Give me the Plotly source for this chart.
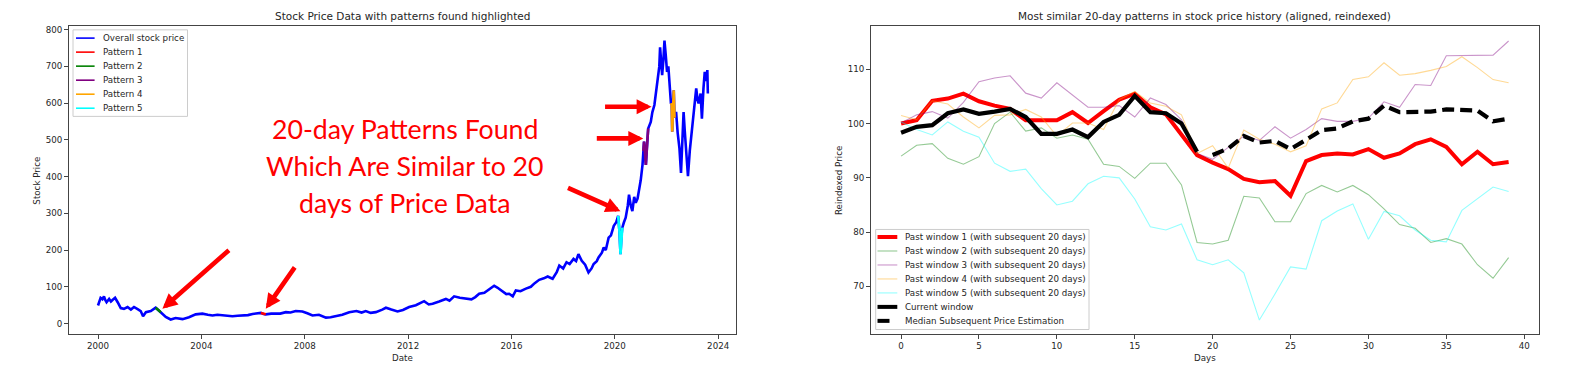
import pandas as pd
import plotly.graph_objects as go

W, H = 1573, 370

# ---------------- Left chart data (fractional year, price) ----------------
stock_years = [
    2000.00, 2000.05, 2000.10, 2000.17, 2000.23, 2000.28, 2000.33, 2000.43, 2000.50, 2000.56,
    2000.66, 2000.76, 2000.88, 2001.00, 2001.14, 2001.27, 2001.39, 2001.53, 2001.65, 2001.74,
    2001.85, 2002.04, 2002.15, 2002.23, 2002.33, 2002.43, 2002.62, 2002.81, 2003.00, 2003.27,
    2003.52, 2003.78, 2004.04, 2004.25, 2004.43, 2004.62, 2004.82, 2005.00, 2005.20, 2005.40,
    2005.59, 2005.80, 2005.98, 2006.15, 2006.30, 2006.40, 2006.49, 2006.70, 2006.88, 2007.05,
    2007.27, 2007.45, 2007.65, 2007.91, 2008.10, 2008.30, 2008.55, 2008.82, 2009.00, 2009.20,
    2009.45, 2009.72, 2010.00, 2010.20, 2010.36, 2010.55, 2010.75, 2011.00, 2011.14, 2011.35,
    2011.59, 2011.80, 2012.04, 2012.30, 2012.45, 2012.62, 2012.80, 2012.95, 2013.20, 2013.46,
    2013.60, 2013.78, 2014.00, 2014.24, 2014.45, 2014.60, 2014.75, 2014.95, 2015.15, 2015.33,
    2015.45, 2015.66, 2015.80, 2015.91, 2016.05, 2016.17, 2016.35, 2016.56, 2016.75, 2016.90,
    2017.07, 2017.25, 2017.40, 2017.59, 2017.75, 2017.85, 2018.00, 2018.13, 2018.25, 2018.40,
    2018.50, 2018.59, 2018.72, 2018.85, 2018.98, 2019.10, 2019.18, 2019.30, 2019.37, 2019.50,
    2019.57, 2019.65, 2019.76, 2019.85, 2019.96, 2020.05, 2020.13, 2020.18, 2020.22, 2020.26,
    2020.29, 2020.35, 2020.42, 2020.50, 2020.55, 2020.62, 2020.68, 2020.75, 2020.81, 2020.88,
    2020.94, 2021.00, 2021.07, 2021.10, 2021.13, 2021.17, 2021.20, 2021.25, 2021.29, 2021.39,
    2021.45, 2021.53, 2021.60, 2021.66, 2021.72, 2021.75, 2021.79, 2021.83, 2021.88, 2021.92,
    2021.97, 2022.02, 2022.07, 2022.11, 2022.17, 2022.20, 2022.22, 2022.25, 2022.28, 2022.31,
    2022.37, 2022.43, 2022.50, 2022.56, 2022.61, 2022.66, 2022.71, 2022.76, 2022.83, 2022.90,
    2022.96, 2023.03, 2023.09, 2023.15, 2023.20, 2023.24, 2023.32, 2023.37, 2023.43, 2023.48,
    2023.53, 2023.58, 2023.60,
]
stock_prices = [
    49, 62, 70, 66, 74, 64, 58, 67, 60, 64,
    70, 58, 42, 40, 45, 38, 45, 39, 34, 20,
    31, 34, 38, 43, 37, 31, 18, 11, 15, 12,
    17, 25, 27, 24, 22, 24, 22, 21, 20, 21,
    22, 23, 26, 28, 29, 26, 25, 27, 28, 27,
    31, 30, 34, 33, 28, 22, 24, 16, 17, 20,
    24, 31, 34, 30, 34, 29, 31, 38, 43, 38,
    33, 37, 45, 50, 55, 61, 52, 54, 60, 67,
    62, 74, 70, 67, 66, 72, 81, 84, 95, 103,
    98, 88, 80, 81, 74, 90, 88, 95, 100, 110,
    119, 123, 128, 122, 140, 158, 150, 167, 162, 176,
    170, 189, 171, 160, 139, 150, 162, 170, 180, 193,
    207, 200, 234, 240, 266, 275, 293, 250, 189, 240,
    261, 275, 288, 320, 351, 320, 306, 345, 329, 340,
    360, 390, 432, 470, 495, 460, 432, 490, 531, 549,
    575, 595, 630, 658, 700, 752, 710, 676, 720, 770,
    730, 685, 700, 649, 600, 595, 522, 600, 635, 560,
    576, 520, 477, 410, 500, 576, 520, 468, 401, 470,
    514, 560, 612, 640, 610, 599, 626, 558, 640, 685,
    660, 690, 626,
]

pattern_names = ["Pattern 1", "Pattern 2", "Pattern 3", "Pattern 4", "Pattern 5"]
pattern_colors = ["red", "green", "purple", "orange", "cyan"]
pattern1_years = [2006.30, 2006.40, 2006.49]
pattern1_prices = [29, 26, 25]
pattern2_years = [2002.23, 2002.33, 2002.43]
pattern2_prices = [43, 37, 31]
pattern3_years = [2021.10, 2021.13, 2021.17, 2021.20, 2021.25, 2021.29]
pattern3_prices = [470, 495, 460, 432, 490, 531]
pattern4_years = [2022.17, 2022.20, 2022.22, 2022.25, 2022.28, 2022.31]
pattern4_prices = [600, 595, 522, 600, 635, 560]
pattern5_years = [2020.13, 2020.18, 2020.22, 2020.26, 2020.29]
pattern5_prices = [293, 250, 189, 240, 261]

year_ticks = [2000, 2004, 2008, 2012, 2016, 2020, 2024]
price_ticks = [0, 100, 200, 300, 400, 500, 600, 700, 800]

# ---------------- Right chart data ----------------
days = list(range(40))
window1 = [100.0, 100.6, 104.2, 104.6, 105.5, 104.1, 103.3, 102.7, 100.6, 100.6,
           100.6, 102.1, 100.1, 102.3, 104.4, 105.5, 103.0, 101.7, 98.0, 94.2,
           92.8, 91.6, 89.8, 89.2, 89.4, 86.7, 93.1, 94.2, 94.5, 94.3,
           95.3, 93.7, 94.5, 96.2, 97.1, 95.7, 92.5, 94.8, 92.5, 92.9]
window2 = [94.0, 96.0, 96.3, 93.6, 92.5, 93.9, 100.0, 102.1, 98.6, 99.2,
           97.3, 97.9, 97.1, 92.5, 92.1, 89.9, 92.7, 92.7, 88.7, 78.1,
           77.8, 78.5, 86.6, 86.3, 81.9, 81.9, 87.1, 88.6, 87.4, 88.6,
           86.9, 84.3, 81.4, 80.7, 78.1, 78.8, 77.8, 74.0, 71.5, 75.3]
window3 = [100.1, 101.6, 102.2, 101.0, 103.9, 107.7, 108.4, 108.8, 105.6, 104.7,
           107.5, 105.3, 103.0, 103.0, 103.3, 101.2, 104.7, 103.5, 100.7, 94.5,
           93.4, 95.6, 97.7, 96.9, 99.4, 97.3, 98.9, 100.9, 100.4, 100.4,
           101.0, 104.0, 103.0, 107.2, 107.0, 112.5, 112.5, 112.5, 112.6, 115.2]
window4 = [101.5, 100.7, 104.2, 103.6, 101.2, 99.2, 101.5, 101.6, 102.6, 101.2,
           97.7, 100.1, 100.1, 98.9, 104.4, 105.9, 103.8, 103.2, 101.6, 94.5,
           95.9, 91.8, 98.8, 97.1, 96.2, 94.8, 95.9, 102.7, 103.8, 108.1,
           108.6, 111.2, 108.9, 109.2, 109.8, 110.5, 112.3, 110.3, 108.1, 107.5]
window5 = [100.3, 98.9, 97.9, 100.3, 98.6, 97.5, 92.7, 91.2, 91.6, 88.0,
           85.0, 85.7, 88.9, 90.3, 90.0, 86.1, 81.0, 80.4, 81.5, 74.9,
           74.0, 74.9, 72.5, 63.8, 68.6, 73.6, 73.2, 82.1, 83.9, 85.2,
           78.7, 83.8, 83.0, 80.4, 78.5, 78.2, 84.0, 86.1, 88.3, 87.5]
current_days = list(range(20))
current_window = [98.3, 99.4, 99.7, 101.9, 102.6, 101.8, 102.2, 102.7, 101.2, 98.1,
                  98.1, 98.9, 97.5, 100.3, 101.6, 105.1, 102.1, 101.9, 100.0, 94.8]
median_days = list(range(20, 40))
median_estimate = [94.2, 95.4, 97.7, 96.5, 96.8, 95.3, 97.0, 98.8, 99.1, 100.4,
                   100.9, 103.3, 102.1, 102.2, 102.2, 102.6, 102.5, 102.4, 100.4, 100.9]

window_names = ["Past window %d (with subsequent 20 days)" % i for i in range(1, 6)]
window_colors = ["rgb(255,0,0)", "rgba(0,128,0,0.42)", "rgba(128,0,128,0.42)",
                 "rgba(255,165,0,0.42)", "rgba(0,255,255,0.42)"]
window_widths = [4, 1.1, 1.1, 1.1, 1.1]
day_ticks = [0, 5, 10, 15, 20, 25, 30, 35, 40]
reindex_ticks = [70, 80, 90, 100, 110]

callout_lines = ["20-day Patterns Found", "Which Are Similar to 20", "days of Price Data"]


def to_date(y):
    yi = int(y)
    return pd.Timestamp(yi, 1, 1) + pd.Timedelta(days=(y - yi) * 365.25)


def dates(ys):
    return [to_date(y) for y in ys]


FONT = "DejaVu Sans"
TXT = "#262626"

fig = go.Figure()

# left chart
fig.add_trace(go.Scatter(x=dates(stock_years), y=stock_prices, mode="lines",
                         line=dict(color="blue", width=2.6), showlegend=False,
                         xaxis="x", yaxis="y"))
pat_years = [pattern1_years, pattern2_years, pattern3_years, pattern4_years, pattern5_years]
pat_prices = [pattern1_prices, pattern2_prices, pattern3_prices, pattern4_prices, pattern5_prices]
for nm, col, pyr, pp in zip(pattern_names, pattern_colors, pat_years, pat_prices):
    fig.add_trace(go.Scatter(x=dates(pyr), y=pp, mode="lines", name=nm,
                             line=dict(color=col, width=2.6), showlegend=False,
                             xaxis="x", yaxis="y"))

# right chart
for nm, col, wd, vals in zip(window_names, window_colors, window_widths,
                             [window1, window2, window3, window4, window5]):
    fig.add_trace(go.Scatter(x=days, y=vals, mode="lines", name=nm,
                             line=dict(color=col, width=wd), showlegend=False,
                             xaxis="x2", yaxis="y2"))
fig.add_trace(go.Scatter(x=current_days, y=current_window, mode="lines", name="Current window",
                         line=dict(color="black", width=4.2), showlegend=False,
                         xaxis="x2", yaxis="y2"))
fig.add_trace(go.Scatter(x=median_days, y=median_estimate, mode="lines",
                         name="Median Subsequent Price Estimation",
                         line=dict(color="black", width=4.2, dash="12px,6px"), showlegend=False,
                         xaxis="x2", yaxis="y2"))

# geometry (pixels)
L1, R1 = 68.6, 736.0
L2, R2 = 870.7, 1539.0
TOP, BOT = 24.5, 334.0


def px(x):
    return x / W


def py(y):
    return 1 - y / H


axis_common = dict(showline=True, mirror=True, linecolor="#444", linewidth=1.1,
                   ticks="outside", ticklen=3.5, tickwidth=1, tickcolor="#444",
                   showgrid=False, zeroline=False,
                   tickfont=dict(family=FONT, size=8.7, color=TXT))

fig.update_layout(
    width=W, height=H, margin=dict(l=0, r=0, t=0, b=0),
    paper_bgcolor="white", plot_bgcolor="white", showlegend=False, hovermode=False,
    xaxis=dict(domain=[px(L1), px(R1)], anchor="y", type="date",
               range=[to_date(1998.86), to_date(2024.69)],
               tickvals=[pd.Timestamp(y, 1, 1) for y in year_ticks],
               ticktext=[str(y) for y in year_ticks], **axis_common),
    yaxis=dict(domain=[py(BOT), py(TOP)], anchor="x", range=[-29, 809],
               tickvals=price_ticks, **axis_common),
    xaxis2=dict(domain=[px(L2), px(R2)], anchor="y2", range=[-1.95, 40.95],
                tickvals=day_ticks, **axis_common),
    yaxis2=dict(domain=[py(BOT), py(TOP)], anchor="x2", range=[61.2, 117.9],
                tickvals=reindex_ticks, **axis_common),
)

ann = []


def label(text, x, y, size=8.7, angle=0, xanchor="center", color=TXT, family=FONT):
    ann.append(dict(text=text, x=px(x), y=py(y), xref="paper", yref="paper",
                    showarrow=False, xanchor=xanchor, yanchor="middle", textangle=angle,
                    font=dict(family=family, size=size, color=color)))


label("Stock Price Data with patterns found highlighted", (L1 + R1) / 2, 14, size=10.5)
label("Most similar 20-day patterns in stock price history (aligned, reindexed)",
      (L2 + R2) / 2, 14, size=10.5)
label("Date", (L1 + R1) / 2, 358)
label("Days", (L2 + R2) / 2, 358)
label("Stock Price", 36.6, 180, angle=-90)
label("Reindexed Price", 839, 180, angle=-90)

# big red callout text (one annotation per line for matching line spacing)
for i, line_text in enumerate(callout_lines):
    label(line_text, 405, 128 + i * 37, size=26.7, color="#ff0000", family="Lato")

# red arrows pointing at the patterns (tip in data coords, tail offset in px)
arrow_tips = [(2002.49, 40, 68, -60), (2006.49, 40, 30, -43),
              (2020.22, 306, -54, -24), (2021.10, 504, -48, 0), (2021.42, 590, -48, 0)]
for yr, val, dx, dy in arrow_tips:
    ann.append(dict(x=to_date(yr), y=val, xref="x", yref="y", ax=dx, ay=dy,
                    axref="pixel", ayref="pixel", text="", showarrow=True,
                    arrowhead=2, arrowsize=0.65, arrowwidth=4.6, arrowcolor="#ff0000"))

# manual legends (matplotlib-like compact legend)
shapes = []


def legend(x0, x1, y0, y1, sx0, sx1, tx, ry0, step, entries):
    shapes.append(dict(type="rect", xref="paper", yref="paper", x0=px(x0), x1=px(x1),
                       y0=py(y1), y1=py(y0), fillcolor="rgba(255,255,255,0.8)",
                       line=dict(color="#cccccc", width=1), layer="above"))
    for i, (name, color, width, dash) in enumerate(entries):
        yy = ry0 + i * step
        shapes.append(dict(type="line", xref="paper", yref="paper", x0=px(sx0), x1=px(sx1),
                           y0=py(yy), y1=py(yy), layer="above",
                           line=dict(color=color, width=width, dash=dash)))
        label(name, tx, yy, xanchor="left")


legend(73, 187.5, 28, 115, 76, 94.6, 100.5, 36.3, 14.1,
       [("Overall stock price", "blue", 1.6, "solid")] +
       [(n, c, 1.6, "solid") for n, c in zip(pattern_names, pattern_colors)])
legend(875.7, 1089, 228.7, 329.3, 877.5, 897.3, 903, 236.3, 14.05,
       [(n, c, w if w > 2 else 1.1, "solid") for n, c, w in
        zip(window_names, window_colors, window_widths)] +
       [("Current window", "black", 4, "solid"),
        ("Median Subsequent Price Estimation", "black", 4, "dash")])

fig.update_layout(annotations=ann, shapes=shapes)
fig.write_html("out.html", config={"displayModeBar": False, "staticPlot": True},
               post_script="document.body.style.margin='0px';document.body.style.overflow='hidden';")
